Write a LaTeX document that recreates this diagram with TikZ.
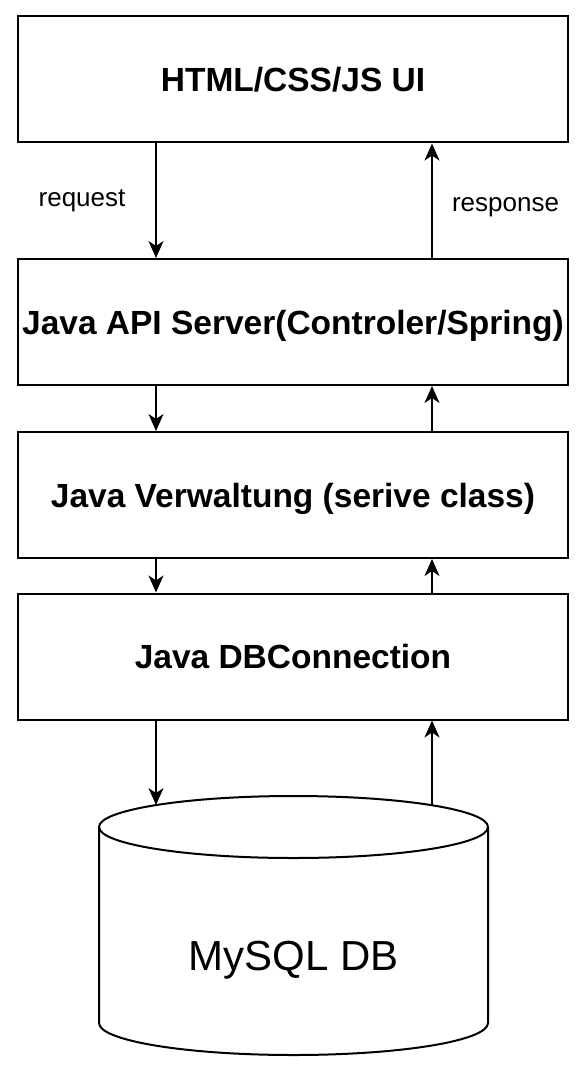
\documentclass[tikz,border=0pt]{standalone}
\usepackage{fontspec}
\setmainfont{Liberation Sans}
\usetikzlibrary{arrows.meta,positioning}

\begin{document}
\begin{tikzpicture}[x=1pt,y=1pt, layer/.style={draw,line width=2pt,minimum width=550pt,minimum height=126pt,inner sep=0pt,text height=24pt,text depth=0pt,font=\fontsize{33.5}{40}\selectfont\bfseries},flow/.style={-{Stealth[length=17pt,width=15pt,inset=5pt]},line width=1.6pt},note/.style={anchor=base,font=\fontsize{26}{30}\selectfont},db/.style={line width=2pt}]
                      \useasboundingbox (0,0) rectangle (582,-1091);
                      \node[layer] (ui) at (293,-79.5) {HTML/CSS/JS UI};
                      \node[layer] (api) at (293,-322) {Java API Server(Controler/Spring)};
                      \node[layer] (svc) at (293,-495) {Java Verwaltung (serive class)};
                      \node[layer] (dbc) at (293,-656.5) {Java DBConnection};

                      \coordinate (L) at (156,0);
                      \coordinate (R) at (432,0);
                      \coordinate (dbL) at (156,-805);
                      \coordinate (dbR) at (432,-805);

                      \draw[db] (99,-827) arc (180:-180:194.5 and 31);
                      \draw[db] (99,-827) -- (99,-1023) arc (180:360:194.5 and 32) -- (488,-827);
                      \node[anchor=base,font=\fontsize{42}{50}\selectfont] (mysql) at (293.5,-970) {MySQL DB};

                      \draw[flow] (ui.south -| L) -- (api.north -| L);
                      \draw[flow] (api.north -| R) -- (ui.south -| R);
                      \draw[flow] (api.south -| L) -- (svc.north -| L);
                      \draw[flow] (svc.north -| R) -- (api.south -| R);
                      \draw[flow] (svc.south -| L) -- (dbc.north -| L);
                      \draw[flow] (dbc.north -| R) -- (svc.south -| R);
                      \draw[flow] (dbc.south -| L) -- (dbL);
                      \draw[flow] (dbR) -- (dbc.south -| R);

                      \node[note] (req) at (82,-207) {request};
                      \node[note] (resp) at (505.5,-212) {response};
                    \end{tikzpicture}
\end{document}
